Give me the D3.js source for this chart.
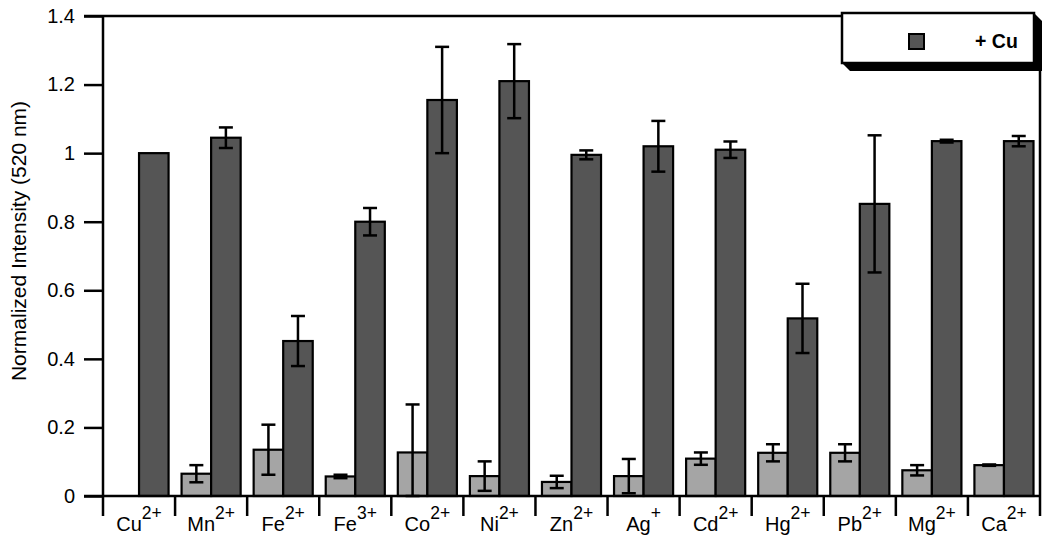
<!DOCTYPE html>
<html>
<head>
<meta charset="utf-8">
<script src="https://cdn.jsdelivr.net/npm/d3@7"></script>
<style>
  body { margin: 0; background: #fff; }
  svg { display: block; font-family: "Liberation Sans", Arial, Helvetica, sans-serif; }
</style>
</head>
<body>
<svg id="chart" width="1050" height="545"></svg>
<script>
// metal ions tested, ion alone vs ion + Cu
const categories = ['Cu2+', 'Mn2+', 'Fe2+', 'Fe3+', 'Co2+', 'Ni2+', 'Zn2+', 'Ag+', 'Cd2+', 'Hg2+', 'Pb2+', 'Mg2+', 'Ca2+'];
const ionOnly    = [null, 0.065, 0.135, 0.057, 0.127, 0.058, 0.041, 0.058, 0.109, 0.126, 0.126, 0.075, 0.090];
const ionOnlyErr = [null, 0.025, 0.073, 0.005, 0.140, 0.043, 0.018, 0.050, 0.018, 0.025, 0.025, 0.015, 0.002];
const withCu     = [1.0, 1.045, 0.452, 0.800, 1.155, 1.210, 0.995, 1.020, 1.010, 0.518, 0.852, 1.035, 1.035];
const withCuErr  = [0, 0.030, 0.073, 0.040, 0.155, 0.108, 0.013, 0.074, 0.024, 0.101, 0.200, 0.004, 0.015];
const yTicks = [0, 0.2, 0.4, 0.6, 0.8, 1, 1.2, 1.4];
const seriesKeys = ['ion', 'cu'];
const legendLabel = '+ Cu';

const svg = d3.select('#chart');
const pLeft = 103, pRight = 1040, pTop = 16, pBottom = 496;

const x = d3.scaleBand().domain(categories).range([pLeft, pRight]).padding(0);
const xs = d3.scaleBand().domain(seriesKeys).range([0, x.bandwidth()])
  .paddingInner(0).paddingOuter(0.22);
const y = d3.scaleLinear().domain([0, 1.4]).range([pBottom, pTop]);

const colors = { ion: '#a5a5a5', cu: '#555555' };

const rows = categories.map((c, i) => [
  { cat: c, key: 'ion', v: ionOnly[i], e: ionOnlyErr[i] },
  { cat: c, key: 'cu', v: withCu[i], e: withCuErr[i] }
]).flat().filter(d => d.v != null);

// bars
svg.append('g').selectAll('rect')
  .data(rows)
  .enter().append('rect')
  .attr('x', d => x(d.cat) + xs(d.key))
  .attr('y', d => y(d.v))
  .attr('width', xs.bandwidth())
  .attr('height', d => y(0) - y(d.v))
  .attr('fill', d => colors[d.key])
  .attr('stroke', '#000')
  .attr('stroke-width', 2.2);

// error bars
const err = svg.append('g').attr('stroke', '#000').attr('stroke-width', 2.5);
rows.filter(d => d.e > 0).forEach(d => {
  const cx = x(d.cat) + xs(d.key) + xs.bandwidth() / 2;
  const hi = y(d.v + d.e);
  const lo = y(Math.max(0, d.v - d.e));
  err.append('line').attr('x1', cx).attr('x2', cx).attr('y1', hi).attr('y2', lo);
  err.append('line').attr('x1', cx - 7).attr('x2', cx + 7).attr('y1', hi).attr('y2', hi);
  err.append('line').attr('x1', cx - 7).attr('x2', cx + 7).attr('y1', lo).attr('y2', lo);
});

// y axis
const yAxis = svg.append('g')
  .attr('transform', `translate(${pLeft},0)`)
  .call(d3.axisLeft(y).tickValues(yTicks).tickSize(19).tickPadding(9)
    .tickFormat(d => d3.format('~g')(d)));
yAxis.select('.domain').attr('stroke-width', 2.5).attr('d', `M0,${pTop}V${pBottom + 20}`);
yAxis.selectAll('.tick line').attr('stroke-width', 2.5);
yAxis.selectAll('.tick text').attr('font-size', 20).attr('fill', '#000')
  .attr('font-family', '"Liberation Sans", Arial, sans-serif');

// frame: top line, x axis, right line
svg.append('line').attr('x1', pLeft - 19).attr('x2', 842).attr('y1', pTop).attr('y2', pTop)
  .attr('stroke', '#000').attr('stroke-width', 2.5);
svg.append('line').attr('x1', pLeft - 19).attr('x2', pRight).attr('y1', pBottom).attr('y2', pBottom)
  .attr('stroke', '#000').attr('stroke-width', 2.5);
svg.append('line').attr('x1', pRight).attr('x2', pRight).attr('y1', 71).attr('y2', pBottom + 20)
  .attr('stroke', '#000').attr('stroke-width', 2.5);

// category separators below the axis
svg.append('g').selectAll('line')
  .data(categories.slice(1))
  .enter().append('line')
  .attr('x1', d => x(d)).attr('x2', d => x(d))
  .attr('y1', pBottom).attr('y2', pBottom + 20)
  .attr('stroke', '#000').attr('stroke-width', 2.5);

// category labels with superscript charge
const lbl = svg.append('g').selectAll('text')
  .data(categories)
  .enter().append('text')
  .attr('x', d => x(d) + x.bandwidth() / 2)
  .attr('y', 531)
  .attr('text-anchor', 'middle')
  .attr('font-size', 20)
  .attr('fill', '#000');
lbl.append('tspan').text(d => d.match(/^[A-Za-z]+/)[0]);
lbl.append('tspan').attr('font-size', 17.5).attr('dy', -12)
  .text(d => d.replace(/^[A-Za-z]+/, ''));

// y title
svg.append('text')
  .attr('transform', 'translate(26,241) rotate(-90)')
  .attr('text-anchor', 'middle')
  .attr('font-size', 21)
  .attr('fill', '#000')
  .text('Normalized Intensity (520 nm)');

// legend with drop shadow
const lx0 = 842, ly0 = 13, lx1 = 1034, ly1 = 63, sh = 8;
svg.append('polygon')
  .attr('points', [[lx1, ly0], [lx1 + sh, ly0 + sh], [lx1 + sh, ly1 + sh], [lx0 + sh, ly1 + sh], [lx0, ly1]].join(' '))
  .attr('fill', '#000');
svg.append('rect').attr('x', lx0).attr('y', ly0).attr('width', lx1 - lx0).attr('height', ly1 - ly0)
  .attr('fill', '#fff').attr('stroke', '#000').attr('stroke-width', 2.5);
svg.append('rect').attr('x', 909).attr('y', 34).attr('width', 15).attr('height', 15)
  .attr('fill', colors.cu).attr('stroke', '#000').attr('stroke-width', 2);
svg.append('text').attr('x', 975).attr('y', 48)
  .attr('font-size', 19.5).attr('font-weight', 'bold').attr('fill', '#000')
  .text(legendLabel);
</script>
</body>
</html>
